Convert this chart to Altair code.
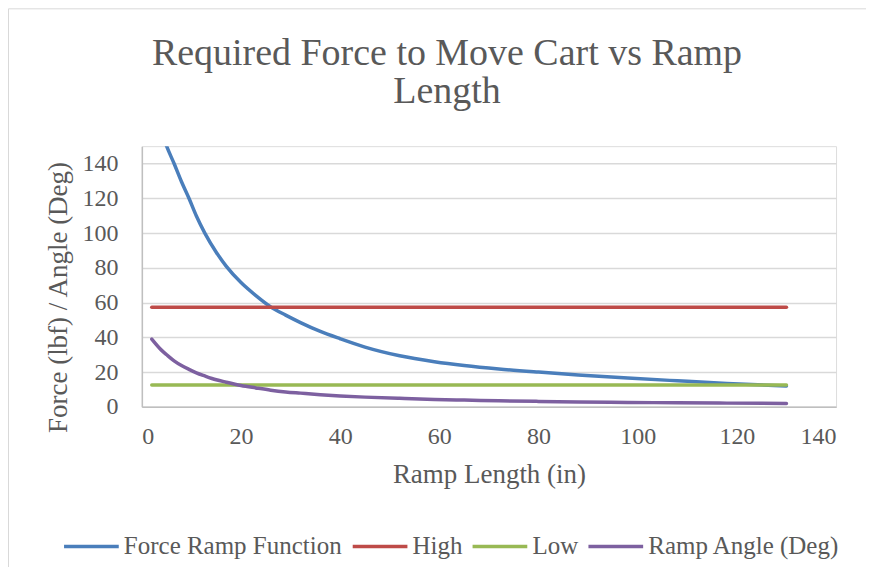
import altair as alt
import pandas as pd

# ---- data ----
ramp_length = [2, 4, 5, 6.5, 8, 9.5, 11, 12.7, 15, 17, 20, 23, 26, 29, 32, 36, 40,
               45, 52, 59, 65, 72, 80, 88, 98, 108, 118, 130]
force_ramp = [175, 158, 150, 140, 129.5, 120, 109.8, 100, 89, 81, 71.5, 64, 57.5, 52.8,
              48.5, 43.4, 39.2, 34.4, 29.4, 26.0, 23.8, 21.8, 20.0, 18.4, 16.6, 15.0,
              13.5, 12.0]
ramp_angle = [39.0, 32.5, 30.0, 26.5, 23.8, 21.6, 19.6, 17.8, 15.6, 14.2, 12.3, 10.9,
              9.6, 8.6, 7.9, 7.0, 6.3, 5.6, 4.9, 4.3, 3.9, 3.5, 3.15, 2.85, 2.55, 2.35,
              2.15, 2.0]
limit_length = [2, 130]
high_force = [57.3, 57.3]
low_force = [12.6, 12.6]

series_names = ["Force Ramp Function", "High", "Low", "Ramp Angle (Deg)"]
series_colors = ["#4A7EBB", "#BE4B48", "#98B954", "#7D60A0"]
x_ticks = [0, 20, 40, 60, 80, 100, 120, 140]
y_ticks = [0, 20, 40, 60, 80, 100, 120, 140]

rows = []
for x, v in zip(ramp_length, force_ramp):
    rows.append({"len": x, "val": v, "series": series_names[0], "o": 0})
for x, v in zip(limit_length, high_force):
    rows.append({"len": x, "val": v, "series": series_names[1], "o": 1})
for x, v in zip(limit_length, low_force):
    rows.append({"len": x, "val": v, "series": series_names[2], "o": 2})
for x, v in zip(ramp_length, ramp_angle):
    rows.append({"len": x, "val": v, "series": series_names[3], "o": 3})
df = pd.DataFrame(rows)

FONT = "Liberation Serif"
TXT = "#595959"

lines = (
    alt.Chart(df)
    .mark_line(strokeWidth=3.5, clip=True, strokeCap="round", interpolate="monotone")
    .encode(
        x=alt.X(
            "len:Q",
            scale=alt.Scale(domain=[0, 140], nice=False),
            axis=alt.Axis(
                values=x_ticks, grid=False, ticks=False, tickSize=0,
                title="Ramp Length (in)", titleFontSize=27, titleFont=FONT,
                titleFontWeight="normal", titleColor=TXT,
                titleY=68, titleBaseline="middle",
                labelFont=FONT, labelFontSize=24, labelColor=TXT,
                labelPadding=30, labelBaseline="middle",
                domainColor="#BFBFBF", domainWidth=1.5,
            ),
        ),
        y=alt.Y(
            "val:Q",
            scale=alt.Scale(domain=[0, 150], nice=False),
            axis=alt.Axis(
                values=y_ticks, grid=True, gridColor="#D9D9D9", gridWidth=1.5,
                ticks=False, tickSize=0,
                title="Force (lbf) /  Angle (Deg)", titleFontSize=27, titleFont=FONT,
                titleFontWeight="normal", titleColor=TXT,
                titleX=-83, titleY=151, titleAngle=270,
                titleBaseline="middle", titleAlign="center",
                labelFont=FONT, labelFontSize=24, labelColor=TXT, labelPadding=24,
                domainColor="#BFBFBF", domainWidth=1.5,
            ),
        ),
        color=alt.Color(
            "series:N",
            scale=alt.Scale(domain=series_names, range=series_colors),
            legend=alt.Legend(
                title=None, orient="none", legendX=-80, legendY=371,
                direction="horizontal", symbolType="stroke", symbolSize=3000,
                symbolStrokeWidth=3.5, labelFont=FONT, labelFontSize=25,
                labelColor=TXT, labelLimit=400, columnPadding=3, labelOffset=3,
            ),
        ),
        order="o:Q",
        detail="series:N",
    )
)

# faint chart-area frame (left and top edges, as in the reference)
frame_src = pd.DataFrame({"k": [0]})
frame_left = alt.Chart(frame_src).mark_rule(color="#D9D9D9", strokeWidth=1).encode(
    x=alt.value(-133.5), y=alt.value(-137.5), y2=alt.value(430)
)
frame_top = alt.Chart(frame_src).mark_rule(color="#D9D9D9", strokeWidth=1).encode(
    x=alt.value(-133.5), x2=alt.value(740), y=alt.value(-137.5)
)

chart = (
    alt.layer(frame_left, frame_top, lines)
    .properties(
        width=695,
        height=261,
        title=alt.TitleParams(
            text=["Required Force to Move Cart vs Ramp", "Length"],
            font=FONT, fontSize=38, fontWeight="normal", color=TXT,
            anchor="middle", dx=-42, lineHeight=38, baseline="alphabetic",
            offset=-132.5,
        ),
        autosize=alt.AutoSizeParams(type="none"),
        padding={"left": 134, "top": 138, "right": 30, "bottom": 160},
    )
    .configure_view(stroke=None)
    .configure(background="white")
)

chart.save("out.html", embed_options={"renderer": "svg", "actions": False})
